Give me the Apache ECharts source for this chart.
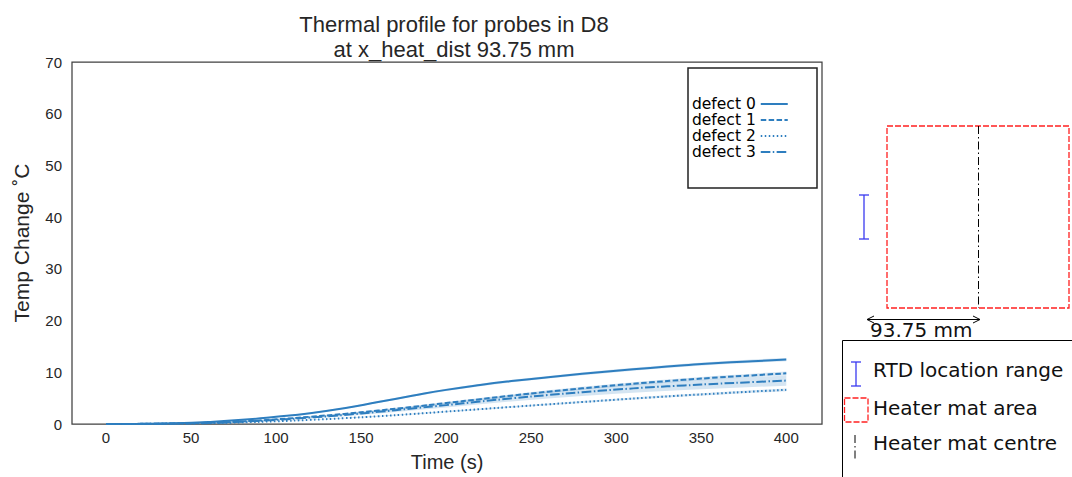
<!DOCTYPE html>
<html>
<head>
<meta charset="utf-8">
<script src="https://cdn.jsdelivr.net/npm/echarts@6/dist/echarts.min.js"></script>
<style>
html,body{margin:0;padding:0;background:#fff;}
#chart{width:1072px;height:477px;}
</style>
</head>
<body>
<div id="chart"></div>
<script>
// ---------- data ----------
const times = [0,20,40,60,80,100,120,140,160,180,200,220,240,260,280,300,320,340,360,380,400];
const xTickValues = [0,50,100,150,200,250,300,350,400];
const yTickValues = [0,10,20,30,40,50,60,70];
const seriesNames = ['defect 0','defect 1','defect 2','defect 3'];

const defect0   = [0,0.04,0.15,0.4,0.8,1.4,2.1,3.05,4.25,5.45,6.6,7.55,8.35,9.05,9.7,10.3,10.85,11.35,11.8,12.15,12.45];
const defect0Lo = [0,0.03,0.13,0.36,0.74,1.31,1.98,2.9,4.07,5.25,6.38,7.32,8.11,8.8,9.44,10.03,10.57,11.06,11.5,11.84,12.13];
const defect0Hi = [0,0.05,0.17,0.44,0.86,1.49,2.22,3.2,4.43,5.65,6.82,7.78,8.59,9.3,9.96,10.57,11.13,11.64,12.1,12.46,12.77];

const defect1   = [0,0.03,0.1,0.25,0.5,0.9,1.4,1.95,2.6,3.3,4.05,4.8,5.55,6.25,6.9,7.5,8.05,8.55,9.0,9.4,9.8];
const defect1Lo = [0,0.02,0.08,0.22,0.45,0.83,1.31,1.84,2.46,3.13,3.86,4.58,5.31,5.99,6.62,7.2,7.74,8.23,8.67,9.06,9.45];
const defect1Hi = [0,0.04,0.12,0.28,0.55,0.97,1.49,2.06,2.74,3.47,4.24,5.02,5.79,6.51,7.18,7.8,8.36,8.87,9.33,9.74,10.15];

const defect2   = [0,0.01,0.06,0.16,0.32,0.53,0.8,1.12,1.5,1.93,2.4,2.87,3.34,3.8,4.25,4.7,5.13,5.53,5.91,6.27,6.6];
const defect2Lo = [0,0.008,0.05,0.14,0.29,0.48,0.74,1.04,1.41,1.82,2.27,2.73,3.18,3.62,4.06,4.5,4.91,5.3,5.67,6.02,6.34];
const defect2Hi = [0,0.012,0.07,0.18,0.35,0.58,0.86,1.2,1.59,2.04,2.53,3.01,3.5,3.98,4.44,4.9,5.35,5.76,6.15,6.52,6.86];

const defect3   = [0,0.02,0.08,0.2,0.45,0.8,1.25,1.75,2.35,3.0,3.65,4.35,5.0,5.6,6.15,6.65,7.1,7.45,7.8,8.1,8.4];
const defect3Lo = [0,0.01,0.06,0.16,0.38,0.69,1.08,1.52,2.05,2.63,3.2,3.82,4.4,4.93,5.42,5.86,6.26,6.57,6.88,7.15,7.4];
const defect3Hi = [0,0.03,0.1,0.24,0.52,0.91,1.42,1.98,2.65,3.37,4.1,4.88,5.6,6.27,6.88,7.44,7.94,8.33,8.72,9.05,9.4];

// ---------- styles ----------
const lineColor = '#2e7ebf';
const bandColor = 'rgba(46,126,191,0.2)';
const dashTypes = ['solid', [5.5,2.4], [1.5,2.5], [9.6,2.4,1.5,2.4]];
const axisFont = 'Liberation Sans, Arial, sans-serif';
const textColor = '#262626';

const means = [defect0, defect1, defect2, defect3];
const lows  = [defect0Lo, defect1Lo, defect2Lo, defect3Lo];
const highs = [defect0Hi, defect1Hi, defect2Hi, defect3Hi];

const series = [];
for (let k = 0; k < 4; k++) {
  series.push({
    name: 'band' + k, type: 'custom', silent: true, z: 1,
    data: [[times[0], lows[k][0]]],
    renderItem: function (params, api) {
      const pts = [];
      for (let i = 0; i < times.length; i++) pts.push(api.coord([times[i], highs[k][i]]));
      for (let i = times.length - 1; i >= 0; i--) pts.push(api.coord([times[i], lows[k][i]]));
      return { type: 'polygon', shape: { points: pts }, style: { fill: bandColor, stroke: null } };
    }
  });
}
for (let k = 0; k < 4; k++) {
  series.push({
    name: seriesNames[k], type: 'line', smooth: true, symbol: 'none', z: 3,
    color: lineColor,
    lineStyle: { color: lineColor, width: 2, type: dashTypes[k] },
    data: times.map((t, i) => [t, means[k][i]])
  });
}

const dd = 'DejaVu Sans, sans-serif';
const graphics = [
  // legend box
  { type: 'rect', shape: { x: 688, y: 68, width: 129, height: 120 },
    style: { fill: 'none', stroke: '#222', lineWidth: 1.5 }, z: 10 },
  // heater mat area
  { type: 'rect', shape: { x: 887, y: 126, width: 182, height: 182 },
    style: { fill: 'none', stroke: '#ff2020', lineWidth: 1.3, lineDash: [6, 2] } },
  // heater mat centre
  { type: 'line', shape: { x1: 978.5, y1: 126, x2: 978.5, y2: 308 },
    style: { stroke: '#000', lineWidth: 1, lineDash: [8, 3, 1.5, 3] } },
  // RTD range I-bar
  { type: 'line', shape: { x1: 864, y1: 195, x2: 864, y2: 239 }, style: { stroke: '#3a3af0', lineWidth: 1.3 } },
  { type: 'line', shape: { x1: 859, y1: 195, x2: 869, y2: 195 }, style: { stroke: '#3a3af0', lineWidth: 1.3 } },
  { type: 'line', shape: { x1: 859, y1: 239, x2: 869, y2: 239 }, style: { stroke: '#3a3af0', lineWidth: 1.3 } },
  // arrow
  { type: 'line', shape: { x1: 867, y1: 319.5, x2: 980, y2: 319.5 }, style: { stroke: '#000', lineWidth: 1 } },
  { type: 'polyline', shape: { points: [[874, 316], [867, 319.5], [874, 323]] }, style: { stroke: '#000', fill: 'none', lineWidth: 1 } },
  { type: 'polyline', shape: { points: [[973, 316], [980, 319.5], [973, 323]] }, style: { stroke: '#000', fill: 'none', lineWidth: 1 } },
  { type: 'text', style: { x: 870, y: 330, text: '93.75 mm', font: '20px ' + dd, fill: '#111', textVerticalAlign: 'middle' } },
  // diagram legend box
  { type: 'rect', shape: { x: 842.5, y: 340.5, width: 250, height: 160 },
    style: { fill: 'none', stroke: '#000', lineWidth: 1 } },
  { type: 'line', shape: { x1: 856, y1: 362, x2: 856, y2: 386 }, style: { stroke: '#3a3af0', lineWidth: 1.3 } },
  { type: 'line', shape: { x1: 851, y1: 362, x2: 861, y2: 362 }, style: { stroke: '#3a3af0', lineWidth: 1.3 } },
  { type: 'line', shape: { x1: 851, y1: 386, x2: 861, y2: 386 }, style: { stroke: '#3a3af0', lineWidth: 1.3 } },
  { type: 'rect', shape: { x: 844.5, y: 398, width: 23.5, height: 24 },
    style: { fill: 'none', stroke: '#ff2020', lineWidth: 1.3, lineDash: [6, 2] } },
  { type: 'line', shape: { x1: 855, y1: 435, x2: 855, y2: 459 }, style: { stroke: '#000', lineWidth: 1, lineDash: [8, 3, 1.5, 3] } },
  { type: 'text', style: { x: 873, y: 370, text: 'RTD location range', font: '20px ' + dd, fill: '#111', textVerticalAlign: 'middle' } },
  { type: 'text', style: { x: 873, y: 408, text: 'Heater mat area', font: '20px ' + dd, fill: '#111', textVerticalAlign: 'middle' } },
  { type: 'text', style: { x: 873, y: 443, text: 'Heater mat centre', font: '20px ' + dd, fill: '#111', textVerticalAlign: 'middle' } }
];

const chart = echarts.init(document.getElementById('chart'), null, { renderer: 'svg' });
chart.setOption({
  backgroundColor: '#fff',
  animation: false,
  title: {
    text: 'Thermal profile for probes in D8\nat x_heat_dist 93.75 mm',
    left: 449, top: 7, textAlign: 'center',
    textStyle: { fontFamily: axisFont, fontSize: 22, fontWeight: 'normal', color: textColor, lineHeight: 25 }
  },
  grid: {
    left: 72, right: 250, top: 62, bottom: 51,
    show: true, borderColor: '#404040', borderWidth: 1.25, backgroundColor: 'transparent'
  },
  legend: {
    data: seriesNames,
    orient: 'vertical', left: 692, top: 96,
    align: 'right', itemWidth: 27, itemHeight: 10, itemGap: 0,
    padding: 0,
    itemStyle: { opacity: 0 },
    textStyle: { fontFamily: dd, fontSize: 15.5, color: '#000', lineHeight: 15.5 }
  },
  xAxis: {
    type: 'value', min: -20, max: 421,
    name: 'Time (s)', nameLocation: 'middle', nameGap: 28,
    nameTextStyle: { fontFamily: axisFont, fontSize: 20, color: textColor },
    axisLine: { show: false }, axisTick: { show: false }, splitLine: { show: false },
    axisLabel: { customValues: xTickValues, fontFamily: axisFont, fontSize: 15, color: textColor, margin: 6 }
  },
  yAxis: {
    type: 'value', min: yTickValues[0], max: yTickValues[yTickValues.length - 1], interval: 10,
    name: 'Temp Change ˚C', nameLocation: 'middle', nameGap: 40,
    nameTextStyle: { fontFamily: axisFont, fontSize: 21, color: textColor },
    axisLine: { show: false }, axisTick: { show: false }, splitLine: { show: false },
    axisLabel: { fontFamily: axisFont, fontSize: 15, color: textColor, margin: 10 }
  },
  graphic: graphics,
  series: series
});
</script>
</body>
</html>
